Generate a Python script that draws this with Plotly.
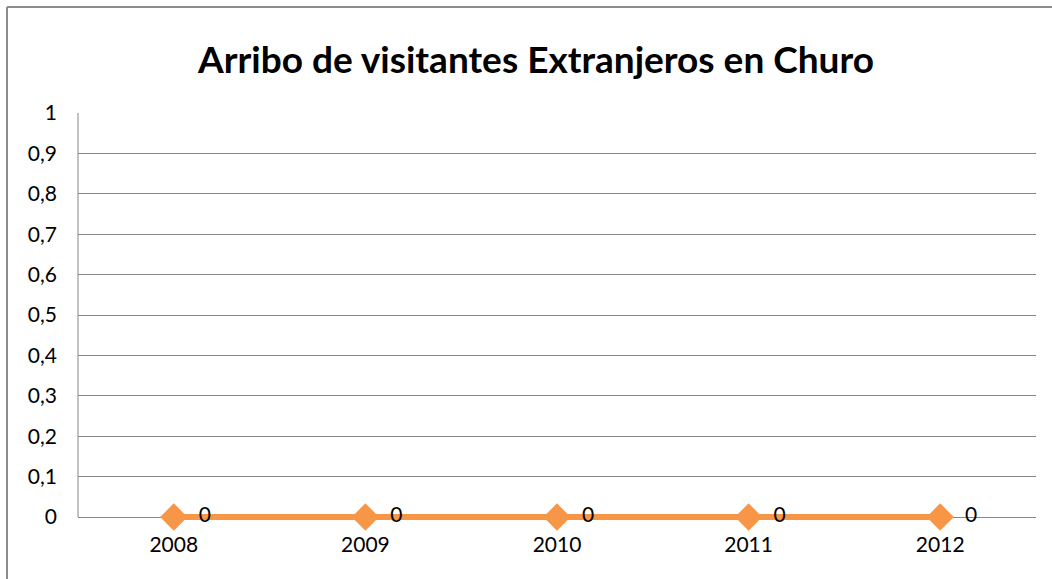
import plotly.graph_objects as go

years = ["2008", "2009", "2010", "2011", "2012"]
visitors = [0, 0, 0, 0, 0]
labels = [str(v) for v in visitors]
title = "Arribo de visitantes Extranjeros en Churo"

W, H = 1052, 579
# plot area extends 8px below the zero line so the thick series line is not clipped
L, R, T, B = 78, 16, 113, 54
pw, ph = W - L - R, H - T - B
y_low = -8 / 404.0

def px_x(p):
    return (p - L) / pw

def px_y(p):
    return (H - B - p) / ph

FONT = "Lato, Carlito, sans-serif"
GRID = "#868686"

fig = go.Figure()
fig.add_trace(go.Scatter(
    x=years, y=visitors, mode="lines+markers+text",
    text=labels, texttemplate="\u00a0\u00a0%{text}", textposition="middle right",
    textfont=dict(family=FONT, size=21, color="#000000"),
    line=dict(color="#F79646", width=6),
    marker=dict(symbol="diamond", size=21, color="#F79646"),
    cliponaxis=False,
    showlegend=False,
    hoverinfo="x+y",
))

fig.update_layout(
    width=W, height=H,
    margin=dict(l=L, r=R, t=T, b=B),
    paper_bgcolor="white", plot_bgcolor="white",
    separators=",.",
    font=dict(family=FONT, color="#000000"),
    title=dict(text="<b>" + title + "</b>", x=536 / W, xref="container", xanchor="center",
               y=1 - 60 / H, yanchor="middle",
               font=dict(size=37, family=FONT, color="#000000")),
    xaxis=dict(type="category", range=[-0.5, 4.5], showgrid=False,
               showline=False, layer="below traces",
               ticks="", tickfont=dict(size=21), ticklabelstandoff=5, fixedrange=True),
    yaxis=dict(range=[y_low, 1], dtick=0.1, tick0=0, showgrid=True, gridcolor=GRID,
               gridwidth=1, showline=False,
               layer="below traces", fixedrange=True,
               zeroline=True, zerolinecolor=GRID, zerolinewidth=1,
               ticks="", tickfont=dict(size=21), ticklabelstandoff=20),
    shapes=[
        dict(type="line", xref="paper", yref="y", layer="below",
             x0=0, x1=0, y0=0, y1=1, line=dict(color=GRID, width=1)),
        dict(type="line", xref="paper", yref="paper", layer="below",
             x0=px_x(7), x1=px_x(7), y0=px_y(H + 2), y1=px_y(7),
             line=dict(color="#8C8C8C", width=2)),
        dict(type="line", xref="paper", yref="paper", layer="below",
             x0=px_x(7), x1=px_x(W + 2), y0=px_y(7), y1=px_y(7),
             line=dict(color="#8C8C8C", width=2)),
    ],
)

fig.write_html(
    "out.html",
    config={"displayModeBar": False},
    post_script="document.body.style.margin='0';document.body.style.overflow='hidden';",
)
